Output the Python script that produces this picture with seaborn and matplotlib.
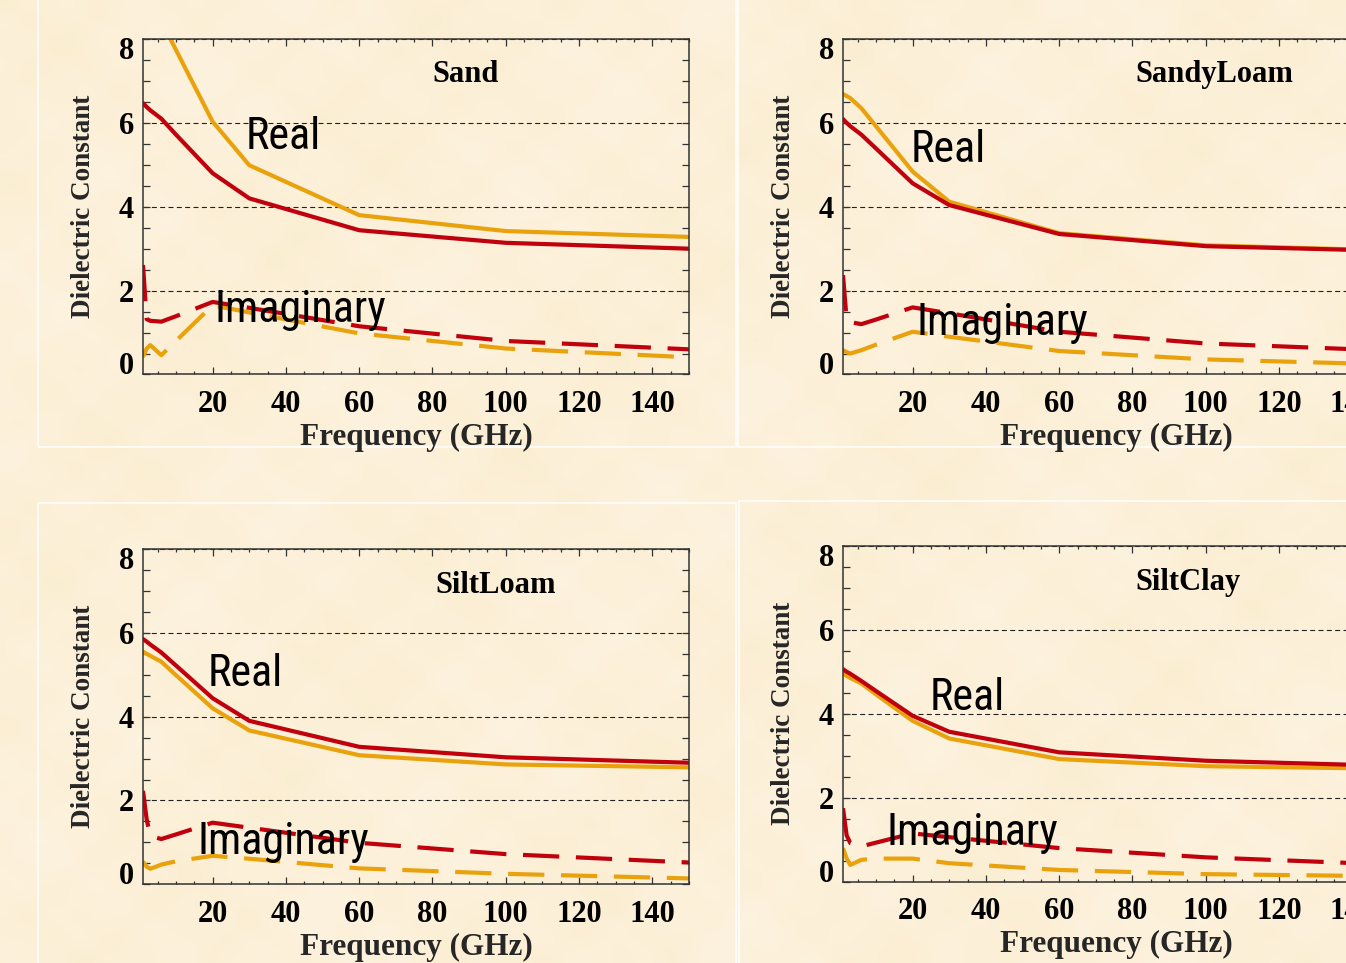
import os
import numpy as np
import pandas as pd
import matplotlib
matplotlib.use("Agg")
import matplotlib.pyplot as plt
import matplotlib.transforms as mtransforms
from matplotlib import font_manager as fm
from matplotlib.patches import Rectangle
from matplotlib.ticker import MultipleLocator, FixedLocator
from matplotlib.colors import LinearSegmentedColormap
import seaborn as sns

# ---------------------------------------------------------------- data
freq_ghz = [1, 2, 3, 6, 10, 20, 30, 60, 100, 150]

soil_names = ["Sand", "SandyLoam", "SiltLoam", "SiltClay"]

sand_real_red = [6.47, 6.38, 6.30, 6.10, 5.72, 4.80, 4.20, 3.44, 3.14, 3.00]
sand_real_gold = [9.90, 9.50, 9.20, 8.43, 7.74, 6.03, 4.99, 3.80, 3.42, 3.28]
sand_imag_red = [2.61, 1.32, 1.28, 1.26, 1.39, 1.73, 1.59, 1.15, 0.80, 0.60]
sand_imag_gold = [0.42, 0.62, 0.70, 0.46, 0.80, 1.65, 1.48, 0.98, 0.62, 0.41]

sandyloam_real_red = [6.09, 6.00, 5.92, 5.72, 5.39, 4.56, 4.04, 3.35, 3.06, 2.95]
sandyloam_real_gold = [6.69, 6.64, 6.59, 6.35, 5.92, 4.84, 4.12, 3.37, 3.08, 2.96]
sandyloam_imag_red = [2.37, 1.30, 1.25, 1.20, 1.31, 1.60, 1.46, 1.02, 0.74, 0.57]
sandyloam_imag_gold = [0.58, 0.53, 0.50, 0.58, 0.71, 1.02, 0.90, 0.56, 0.36, 0.24]

siltloam_real_red = [5.85, 5.79, 5.72, 5.53, 5.22, 4.44, 3.90, 3.28, 3.03, 2.90]
siltloam_real_gold = [5.55, 5.50, 5.45, 5.31, 4.99, 4.20, 3.67, 3.08, 2.86, 2.79]
siltloam_imag_red = [2.23, 1.55, 1.15, 1.08, 1.19, 1.47, 1.35, 0.99, 0.72, 0.52]
siltloam_imag_gold = [0.54, 0.42, 0.37, 0.47, 0.55, 0.68, 0.61, 0.38, 0.25, 0.14]

siltclay_real_red = [5.06, 5.00, 4.95, 4.78, 4.54, 3.95, 3.57, 3.08, 2.88, 2.76]
siltclay_real_gold = [4.95, 4.90, 4.85, 4.72, 4.46, 3.83, 3.41, 2.92, 2.75, 2.69]
siltclay_imag_red = [1.75, 1.10, 0.92, 0.84, 0.93, 1.15, 1.06, 0.80, 0.58, 0.41]
siltclay_imag_gold = [0.80, 0.55, 0.40, 0.52, 0.55, 0.55, 0.44, 0.28, 0.18, 0.13]

panel_series = {
    "Sand": (sand_real_red, sand_real_gold, sand_imag_red, sand_imag_gold),
    "SandyLoam": (sandyloam_real_red, sandyloam_real_gold,
                  sandyloam_imag_red, sandyloam_imag_gold),
    "SiltLoam": (siltloam_real_red, siltloam_real_gold,
                 siltloam_imag_red, siltloam_imag_gold),
    "SiltClay": (siltclay_real_red, siltclay_real_gold,
                 siltclay_imag_red, siltclay_imag_gold),
}

x_ticks = [20, 40, 60, 80, 100, 120, 140]
y_ticks = [0, 2, 4, 6, 8]

# ---------------------------------------------------------------- style
RED = "#C0000C"
GOLD = "#E9A20C"
AXIS = "#333333"
BG = "#FCF0D8"

sns.set_theme(style="ticks")
plt.rcParams["font.family"] = ["Liberation Serif", "DejaVu Serif"]
plt.rcParams["font.weight"] = "bold"
plt.rcParams["axes.facecolor"] = "none"
plt.rcParams["figure.facecolor"] = BG
plt.rcParams["text.color"] = "black"
plt.rcParams["xtick.color"] = AXIS
plt.rcParams["ytick.color"] = AXIS
plt.rcParams["xtick.labelcolor"] = "black"
plt.rcParams["ytick.labelcolor"] = "black"


def narrow_sans():
    """Return FontProperties for the narrowest regular sans face available."""
    preferred = ["Liberation Sans Narrow", "Arial Narrow", "Roboto Condensed",
                 "Open Sans Condensed", "Noto Sans Condensed",
                 "DejaVu Sans Condensed", "Noto Sans", "Open Sans", "Roboto",
                 "DejaVu Sans"]
    regular = [f for f in fm.fontManager.ttflist
               if f.style == "normal" and str(f.weight) in ("400", "normal",
                                                            "regular", "book")]

    def is_narrow(f):
        base = os.path.basename(f.fname)
        return ("Narrow" in f.name or "Condensed" in f.name
                or ("Condensed" in base and "Extra" not in base
                    and "Semi" not in base)
                or "Narrow" in base or f.stretch == "condensed")

    narrow = [f for f in regular if is_narrow(f)]
    for fam in preferred:
        for f in narrow:
            if f.name == fam:
                return fm.FontProperties(fname=f.fname)
    if narrow:
        return fm.FontProperties(fname=narrow[0].fname)
    return fm.FontProperties(family=["Liberation Sans", "DejaVu Sans"])


NARROW = narrow_sans()

W, H = 1346, 963
fig = plt.figure(figsize=(W / 100, H / 100), dpi=100)

# parchment background
bg = fig.add_axes([0, 0, 1, 1], zorder=-3)
yy, xx = np.mgrid[0:1:90j, 0:1:126j]
tex = (np.sin(2 * np.pi * (3.3 * xx + 1.9 * yy) + 0.4)
       + 0.8 * np.sin(2 * np.pi * (6.7 * xx - 5.3 * yy) + 1.3)
       + 0.7 * np.sin(2 * np.pi * (11.9 * xx + 9.1 * yy) + 2.1)
       + 0.6 * np.sin(2 * np.pi * (17.3 * xx - 15.7 * yy) + 0.7)
       + 0.5 * np.sin(2 * np.pi * (23.1 * xx + 19.3 * yy) + 2.9)
       + 0.45 * np.sin(2 * np.pi * (31.7 * xx - 27.9 * yy) + 1.7))
tex = (tex - tex.min()) / (tex.max() - tex.min())
parchment = LinearSegmentedColormap.from_list(
    "parchment", ["#FCF3E0", "#FCF0D9", "#FAEDCF"])
bg.imshow(tex, cmap=parchment, extent=(0, 1, 0, 1), aspect="auto",
          interpolation="bicubic")
bg.set_axis_off()


def px_rect(left, top, width, height):
    return [left / W, 1 - (top + height) / H, width / W, height / H]


# faint white frames around each panel
frames = [
    (37.7, -10, 736 - 37.7, 447.5 + 10),
    (738.3, -10, 1400 - 738.3, 447.0 + 10),
    (37.7, 503.3, 736 - 37.7, 980 - 503.3),
    (738.5, 501.0, 1400 - 738.5, 980 - 501.0),
]
for fx, fy, fw, fh in frames:
    fig.add_artist(Rectangle((fx / W, 1 - (fy + fh) / H), fw / W, fh / H,
                             transform=fig.transFigure, fill=False,
                             edgecolor="white", linewidth=1.2, alpha=0.9,
                             zorder=-2))

axes_pos = {
    "Sand": px_rect(143, 39, 546, 335.5),
    "SandyLoam": px_rect(843, 39, 546, 335.5),
    "SiltLoam": px_rect(143, 549, 546, 335.3),
    "SiltClay": px_rect(843, 545.7, 546, 336.0),
}

title_xy = {
    "Sand": (89.0, 7.15),
    "SandyLoam": (102.2, 7.15),
    "SiltLoam": (97.3, 7.13),
    "SiltClay": (95.2, 7.12),
}
real_xy = {
    "Sand": (29.0, 5.37),
    "SandyLoam": (19.5, 5.07),
    "SiltLoam": (18.6, 4.72),
    "SiltClay": (24.6, 4.09),
}
imag_xy = {
    "Sand": (20.6, 1.26),
    "SandyLoam": (21.0, 0.94),
    "SiltLoam": (16.0, 0.72),
    "SiltClay": (12.9, 0.87),
}

part_labels = []

for name in soil_names:
    real_red, real_gold, imag_red, imag_gold = panel_series[name]
    frames_long = []
    for values, curve, part in [(real_gold, "gold", "Real"),
                                (real_red, "red", "Real"),
                                (imag_gold, "gold", "Imaginary"),
                                (imag_red, "red", "Imaginary")]:
        frames_long.append(pd.DataFrame({"freq": freq_ghz, "value": values,
                                         "curve": curve, "part": part}))
    df = pd.concat(frames_long, ignore_index=True)

    ax = fig.add_axes(axes_pos[name])
    sns.lineplot(data=df, x="freq", y="value", hue="curve", style="part",
                 hue_order=["gold", "red"], style_order=["Real", "Imaginary"],
                 palette={"gold": GOLD, "red": RED},
                 dashes={"Real": "", "Imaginary": (8.7, 4.0)},
                 linewidth=3.0, errorbar=None, legend=False, ax=ax,
                 zorder=2.5)

    ax.set_xlim(1, 150)
    ax.set_ylim(0, 8)
    ax.xaxis.set_major_locator(FixedLocator(x_ticks))
    ax.xaxis.set_minor_locator(MultipleLocator(5))
    ax.yaxis.set_major_locator(FixedLocator(y_ticks))
    ax.yaxis.set_minor_locator(MultipleLocator(0.5))

    ax.tick_params(axis="both", which="both", direction="in", top=True,
                   right=True, width=0.9, color=AXIS)
    ax.tick_params(axis="x", which="major", length=5.2, pad=11.0,
                   labelsize=22)
    ax.tick_params(axis="x", which="minor", length=2.0)
    ax.tick_params(axis="y", which="both", length=5.3)
    ax.tick_params(axis="y", which="major", pad=6.5, labelsize=22)

    ax.grid(axis="y", which="major", color="#222222",
            linestyle=(0, (4.5, 3.0)), linewidth=0.8)
    ax.grid(axis="x", visible=False)
    for spine in ax.spines.values():
        spine.set_color(AXIS)
        spine.set_linewidth(1.1)

    ax.set_xlabel("Frequency (GHz)", fontsize=22.5, fontweight="bold")
    ax.xaxis.set_label_coords(0.5, -0.145)
    ax.set_ylabel("Dielectric Constant", fontsize=19.5, fontweight="bold")
    ax.yaxis.set_label_coords(-0.086, 0.5)

    tx, ty = title_xy[name]
    ax.text(tx, ty, name, ha="center", va="center", fontsize=22,
            fontweight="bold")
    rx, ry = real_xy[name]
    part_labels.append(ax.text(rx, ry, "Real", ha="left", va="baseline",
                               fontproperties=NARROW, fontsize=34,
                               zorder=4))
    ix, iy = imag_xy[name]
    part_labels.append(ax.text(ix, iy, "Imaginary", ha="left",
                               va="baseline", fontproperties=NARROW,
                               fontsize=34, zorder=4))

    # end labels of the value axis sit just inside the frame
    yt = ax.yaxis.get_major_ticks()
    yt[0].label1.set_verticalalignment("baseline")
    yt[-1].label1.set_transform(
        yt[-1].label1.get_transform()
        + mtransforms.ScaledTranslation(0, -0.09, fig.dpi_scale_trans))

# size the in-plot annotations so "Imaginary" spans about 172 px
renderer = fig.canvas.get_renderer()
imag_width = part_labels[1].get_window_extent(renderer).width
label_size = min(36.0, 34.0 * 172.0 / imag_width)
for t in part_labels:
    t.set_fontsize(label_size)

fig.savefig("out.png", dpi=100, facecolor=BG)
